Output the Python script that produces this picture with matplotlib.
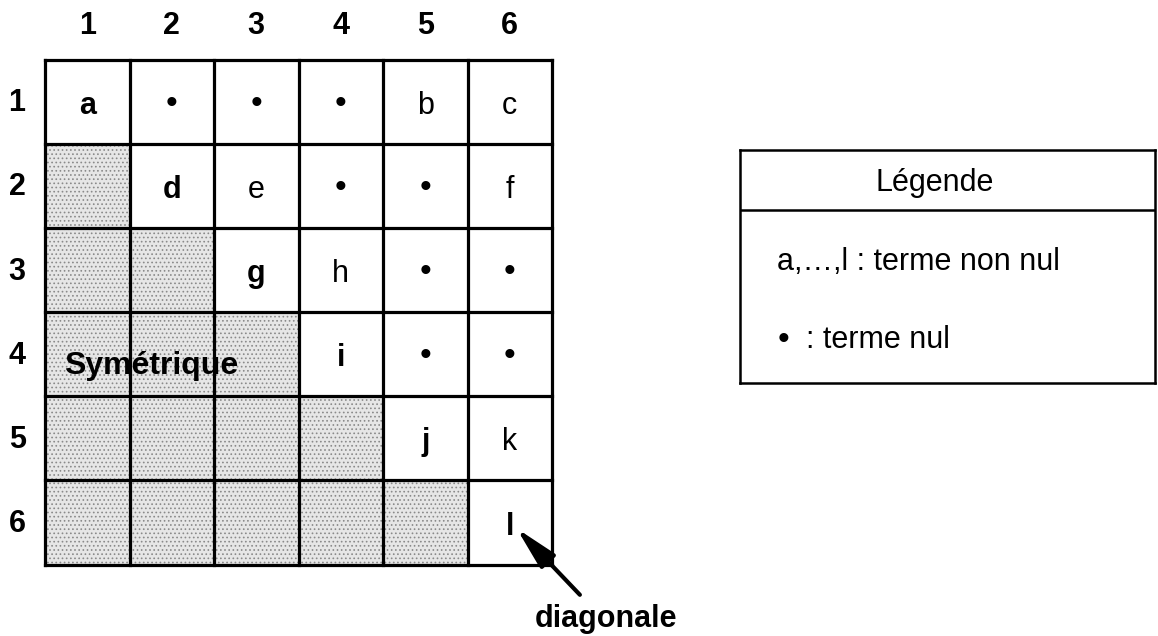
import matplotlib.pyplot as plt
from matplotlib.patches import Rectangle

plt.rcParams['font.family'] = ['Liberation Sans', 'DejaVu Sans']
plt.rcParams['hatch.color'] = '#8a8a8a'
plt.rcParams['hatch.linewidth'] = 0.7

# Données
col_labels = ['1', '2', '3', '4', '5', '6']
row_labels = ['1', '2', '3', '4', '5', '6']
entries = [
    ['a', '•', '•', '•', 'b', 'c'],
    ['', 'd', 'e', '•', '•', 'f'],
    ['', '', 'g', 'h', '•', '•'],
    ['', '', '', 'i', '•', '•'],
    ['', '', '', '', 'j', 'k'],
    ['', '', '', '', '', 'l'],
]
sym_label = 'Symétrique'
diag_label = 'diagonale'
legend_title = 'Légende'
legend_terms = ['a,…,l : terme non nul', ': terme nul']

W, H = 1158, 636
fig = plt.figure(figsize=(W / 100, H / 100), dpi=100)

# Grille de la matrice
ax = fig.add_axes([45 / W, 1 - 564.5 / H, 507 / W, 505 / H])
n = len(col_labels)
ax.set_xlim(0, n)
ax.set_ylim(n, 0)
ax.axis('off')

for i in range(n):
    for j in range(n):
        if i > j:
            ax.add_patch(Rectangle((j, i), 1, 1, facecolor='#e6e6e6',
                                   edgecolor='#8a8a8a', lw=0, hatch='....'))
        txt = entries[i][j]
        if txt == '•':
            ax.text(j + 0.5, i + 0.53, txt, ha='center', va='center', fontsize=24)
        elif txt:
            ax.text(j + 0.5, i + 0.55, txt, ha='center', va='center', fontsize=22,
                    fontweight='bold' if i == j else 'normal')

for k in range(n + 1):
    ax.plot([k, k], [0, n], color='black', lw=2.3, solid_capstyle='projecting', clip_on=False)
    ax.plot([0, n], [k, k], color='black', lw=2.3, solid_capstyle='projecting', clip_on=False)

for k, lab in enumerate(col_labels):
    ax.text(k + 0.5, -0.4, lab, ha='center', va='center', fontsize=22,
            fontweight='bold', clip_on=False)
for k, lab in enumerate(row_labels):
    ax.text(-0.33, k + 0.52, lab, ha='center', va='center', fontsize=22,
            fontweight='bold', clip_on=False)

ax.text(0.22, 3.74, sym_label, ha='left', va='baseline', fontsize=23, fontweight='bold')

# Flèche vers la diagonale
ax.annotate('', xy=(5.58, 5.57), xytext=(6.33, 6.36), annotation_clip=False,
            arrowprops=dict(arrowstyle='-|>,head_length=2.6,head_width=0.6',
                            color='black', lw=3, shrinkA=0, shrinkB=0))
ax.text(6.64, 6.74, diag_label, ha='center', va='baseline', fontsize=22,
        fontweight='bold', clip_on=False)

# Légende
lax = fig.add_axes([740 / W, 1 - 383 / H, 415 / W, 233 / H])
lax.set_xlim(0, 1)
lax.set_ylim(1, 0)
lax.set_xticks([])
lax.set_yticks([])
for s in lax.spines.values():
    s.set_linewidth(1.8)
lax.axhline(60 / 233, color='black', lw=1.8)
lax.text(0.47, 33 / 233, legend_title, ha='center', va='center', fontsize=22)
lax.text(0.089, 112 / 233, legend_terms[0], ha='left', va='center', fontsize=22)
lax.text(0.105, 190 / 233, '•', ha='center', va='center', fontsize=24)
lax.text(0.16, 190 / 233, legend_terms[1], ha='left', va='center', fontsize=22)

fig.savefig('out.png', dpi=100)
